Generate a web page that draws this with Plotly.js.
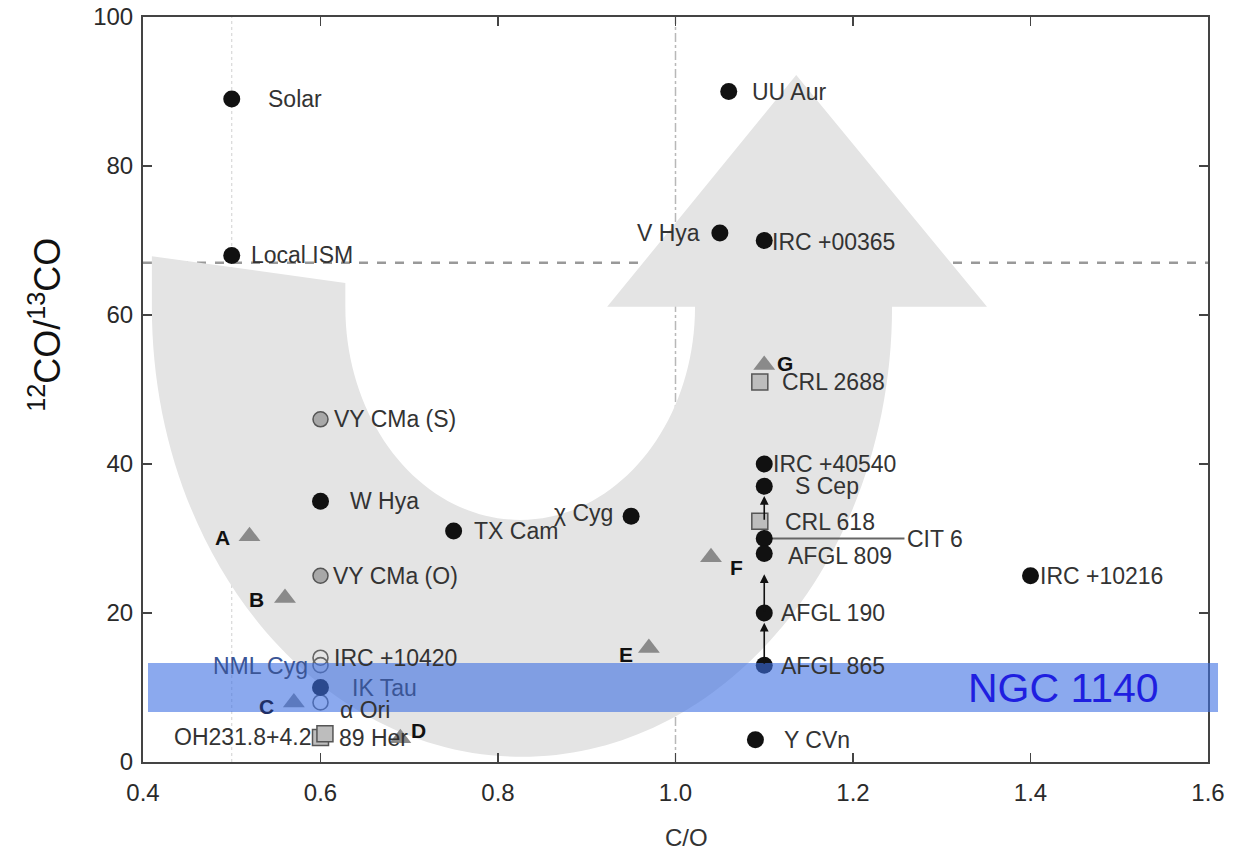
<!DOCTYPE html>
<html>
<head>
<meta charset="utf-8">
<script src="https://cdn.plot.ly/plotly-3.0.1.min.js"></script>
<style>
  html, body { margin: 0; padding: 0; background: #fff; }
  #chart { width: 1240px; height: 852px; }
</style>
</head>
<body>
<div id="chart"></div>
<script>
// ---- Sources: C/O ratio vs 12CO/13CO ratio ----
// Black filled circles
const darkNames = ["Solar", "Local ISM", "UU Aur", "V Hya", "IRC +00365", "IRC +40540", "S Cep",
  "W Hya", "χ Cyg", "TX Cam", "CIT 6", "AFGL 809", "IRC +10216", "AFGL 190", "AFGL 865", "IK Tau", "Y CVn"];
const darkCO    = [0.50, 0.50, 1.06, 1.05, 1.10, 1.10, 1.10, 0.60, 0.95, 0.75, 1.10, 1.10, 1.40, 1.10, 1.10, 0.60, 1.09];
const darkRatio = [89, 68, 90, 71, 70, 40, 37, 35, 33, 31, 30, 28, 25, 20, 13, 10, 3];

// Grey filled circles
const greyNames = ["VY CMa (S)", "VY CMa (O)"];
const greyCO    = [0.60, 0.60];
const greyRatio = [46, 25];

// Open circles
const openNames = ["IRC +10420", "NML Cyg", "α Ori"];
const openCO    = [0.60, 0.60, 0.60];
const openRatio = [14, 13, 8];

// Squares
const squareNames = ["CRL 2688", "CRL 618", "OH231.8+4.2", "89 Her"];
const squareCO    = [1.095, 1.095, 0.600, 0.605];
const squareRatio = [51, 32.3, 3.3, 3.8];

// Triangles
const triNames = ["A", "B", "C", "D", "E", "F", "G"];
const triCO    = [0.52, 0.56, 0.57, 0.69, 0.97, 1.04, 1.10];
const triRatio = [30.3, 22, 8, 3.2, 15.3, 27.5, 53.3];

// Lower-limit arrows at C/O = 1.1 (from, to)
const arrowCO   = [1.10, 1.10, 1.10];
const arrowFrom = [13, 20, 32.3];
const arrowTo   = [18.7, 25.2, 35.7];

// Reference levels
const solarCO = 0.5;
const unityCO = 1.0;
const ismRatio = 67;

// NGC 1140 range
const ngcName = "NGC 1140";
const ngcLow = 6.7;
const ngcHigh = 13.3;

// CIT 6 label leader end
const cit6LeaderEnd = 1.258;

// ---- Label placement: [xanchor, xshift, yshift, bold, colour] ----
const inkText = "#333";
const underBand = "#3a5596";
const labelPlace = {
  "Solar": ["left", 34, 0], "Local ISM": ["left", 17, 0], "UU Aur": ["left", 21, 0],
  "V Hya": ["right", -18, 0], "IRC +00365": ["left", 6, -1], "IRC +40540": ["left", 7, 0],
  "S Cep": ["left", 29, 0], "W Hya": ["left", 27, 0], "χ Cyg": ["right", -16, 3],
  "TX Cam": ["left", 18, 0], "CIT 6": ["left", 141, 0], "AFGL 809": ["left", 22, -3],
  "IRC +10216": ["left", 7, 0], "AFGL 190": ["left", 15, 0], "AFGL 865": ["left", 15, -1],
  "IK Tau": ["left", 29, 0, false, underBand], "Y CVn": ["left", 27, 0],
  "VY CMa (S)": ["left", 11, 0], "VY CMa (O)": ["left", 10, 0],
  "IRC +10420": ["left", 11, 0], "NML Cyg": ["right", -11, -1, false, underBand], "α Ori": ["left", 17, -8],
  "CRL 2688": ["left", 20, 0], "CRL 618": ["left", 23, -1], "OH231.8+4.2": ["right", -8, 0], "89 Her": ["left", 12, -4],
  "A": ["right", -18, -1, true], "B": ["right", -19, -1, true], "C": ["right", -18, -4, true, "#1f2f66"],
  "D": ["left", 9, 8, true], "E": ["right", -14, -6, true], "F": ["left", 17, -10, true], "G": ["left", 11, 1, true]
};

const labelFont = "Liberation Sans, Arial, sans-serif";

function labelsFor(names, xs, ys) {
  return names.map((n, i) => {
    const p = labelPlace[n];
    return {
      x: xs[i], y: ys[i], xref: "x", yref: "y", text: p[3] ? "<b>" + n + "</b>" : n,
      showarrow: false, xanchor: p[0], yanchor: "middle", xshift: p[1], yshift: p[2],
      font: { family: labelFont, size: p[3] ? 21 : 23, color: p[4] || (p[3] ? "#111" : inkText) }
    };
  });
}

const traces = [
  {
    type: "scatter", mode: "markers", x: triCO, y: triRatio, name: "triangles",
    marker: { symbol: "triangle-up", size: 19, color: "#8a8a8a", line: { width: 0 } }
  },
  {
    type: "scatter", mode: "markers", x: squareCO, y: squareRatio, name: "squares",
    marker: { symbol: "square", size: 16, color: "#bdbdbd", line: { width: 1.5, color: "#555" } }
  },
  {
    type: "scatter", mode: "markers", x: greyCO, y: greyRatio, name: "grey",
    marker: { symbol: "circle", size: 15, color: "#a8a8a8", line: { width: 1.5, color: "#555" } }
  },
  {
    type: "scatter", mode: "markers", x: openCO, y: openRatio, name: "open",
    marker: { symbol: "circle-open", size: 15, color: "#666", line: { width: 1.6 } }
  },
  {
    type: "scatter", mode: "markers", x: darkCO, y: darkRatio, name: "dark",
    marker: { symbol: "circle", size: 17, color: "#111" }
  }
];

const shapes = [
  // curved evolutionary arrow (drawn behind everything)
  {
    type: "path", xref: "x", yref: "y", layer: "below",
    path: "M0.410,67.9 L0.410,61.1 C0.410,27.74 0.5967,0.7 0.827,0.7 C1.0573,0.7 1.244,27.74 1.244,61.1 " +
          "L1.351,61.1 L1.136,92.2 L0.923,61.1 L1.022,61.1 " +
          "C1.022,45.3 0.934,32.5 0.825,32.5 C0.716,32.5 0.628,45.3 0.628,61.1 L0.628,64.3 Z",
    fillcolor: "#e4e4e4", line: { width: 0 }
  },
  { type: "line", xref: "x", yref: "paper", x0: solarCO, x1: solarCO, y0: 0, y1: 1, layer: "below",
    line: { color: "#d0d0d0", width: 1, dash: "dot" } },
  { type: "line", xref: "x", yref: "paper", x0: unityCO, x1: unityCO, y0: 0, y1: 1, layer: "below",
    line: { color: "#b8b8b8", width: 1.5, dash: "dashdot" } },
  { type: "line", xref: "paper", yref: "y", x0: 0, x1: 1, y0: ismRatio, y1: ismRatio, layer: "below",
    line: { color: "#999", width: 2.5, dash: "dash" } },
  // CIT 6 leader
  { type: "line", xref: "x", yref: "y", x0: darkCO[darkNames.indexOf("CIT 6")], x1: cit6LeaderEnd,
    y0: darkRatio[darkNames.indexOf("CIT 6")], y1: darkRatio[darkNames.indexOf("CIT 6")], layer: "below",
    line: { color: "#666", width: 1.8 } },
  // NGC 1140 band
  { type: "rect", xref: "paper", yref: "y", x0: 0.0047, x1: 1.0094, y0: ngcLow, y1: ngcHigh, layer: "above",
    fillcolor: "rgba(62,112,226,0.6)", line: { width: 0 } }
];

const annotations = []
  .concat(labelsFor(darkNames, darkCO, darkRatio))
  .concat(labelsFor(greyNames, greyCO, greyRatio))
  .concat(labelsFor(openNames, openCO, openRatio))
  .concat(labelsFor(squareNames, squareCO, squareRatio))
  .concat(labelsFor(triNames, triCO, triRatio));

// lower-limit arrows
arrowCO.forEach((c, i) => {
  annotations.push({
    x: c, y: arrowTo[i], ax: c, ay: arrowFrom[i], xref: "x", yref: "y", axref: "x", ayref: "y",
    text: "", showarrow: true, arrowhead: 2, arrowsize: 1.1, arrowwidth: 1.6, arrowcolor: "#111", standoff: 0
  });
});

// band label
annotations.push({
  x: 0.956, y: (ngcLow + ngcHigh) / 2, xref: "paper", yref: "y", text: ngcName, showarrow: false,
  xanchor: "right", yanchor: "middle", font: { family: labelFont, size: 41, color: "#1f1fe0" }
});

// axis titles
annotations.push({
  x: -0.092, y: 0.587, xref: "paper", yref: "paper", text: "<sup>12</sup>CO/<sup>13</sup>CO",
  textangle: -90, showarrow: false, xanchor: "center", yanchor: "middle",
  font: { family: labelFont, size: 36, color: "#111" }
});
annotations.push({
  x: 0.51, y: -0.102, xref: "paper", yref: "paper", text: "C/O", showarrow: false,
  xanchor: "center", yanchor: "middle", font: { family: labelFont, size: 24, color: "#333" }
});

const axisCommon = {
  showgrid: false, zeroline: false, showline: true, linecolor: "#444", linewidth: 2,
  ticks: "inside", ticklen: 9, tickwidth: 1.5, tickcolor: "#444", mirror: "ticks",
  tickfont: { family: labelFont, size: 24, color: "#2a2a2a" }
};

const layout = {
  width: 1240, height: 852,
  margin: { l: 143, r: 32, t: 17, b: 90 },
  paper_bgcolor: "#fff", plot_bgcolor: "#fff",
  showlegend: false,
  xaxis: Object.assign({}, axisCommon, { range: [0.4, 1.6], dtick: 0.2, tick0: 0.4, tickformat: ".1f", ticklabelstandoff: 8 }),
  yaxis: Object.assign({}, axisCommon, { range: [0, 100], dtick: 20, tick0: 0, ticklabelstandoff: 3 }),
  shapes: shapes,
  annotations: annotations
};

Plotly.newPlot("chart", traces, layout, { displayModeBar: false, staticPlot: true });
</script>
</body>
</html>
